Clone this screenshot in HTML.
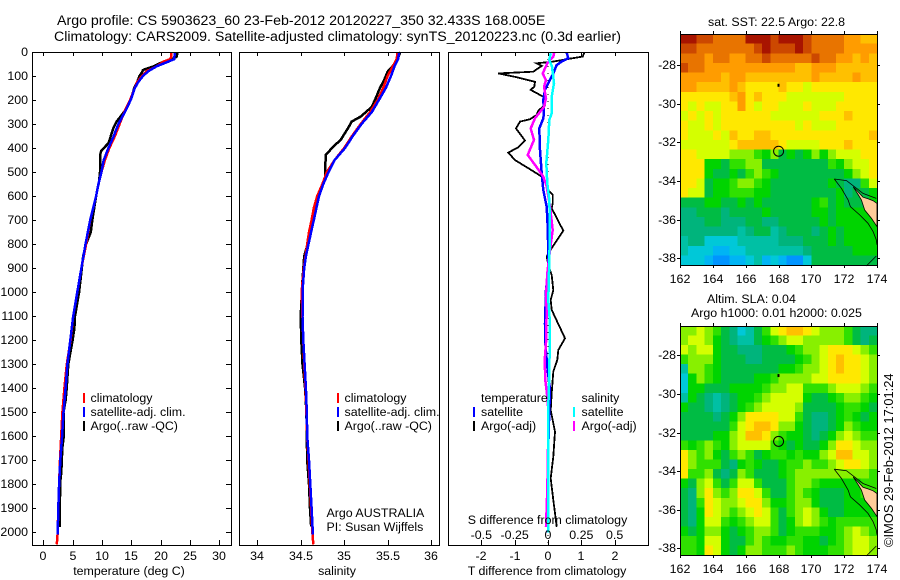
<!DOCTYPE html>
<html lang="en">
<head>
<meta charset="utf-8">
<title>Argo profile CS 5903623_60</title>
<style>
html,body{margin:0;padding:0;background:#fff;}
svg{display:block;}
text{font-family:"Liberation Sans",sans-serif;font-size:12.4px;fill:#000;}
.t14{font-size:14.2px;}
.stamp{font-size:12.9px;}
</style>
</head>
<body>
<svg id="chart" width="900" height="580" viewBox="0 0 900 580" xmlns="http://www.w3.org/2000/svg">
  <rect width="900" height="580" fill="#fff"/>
  <text class="t14" x="57" y="25">Argo profile: CS 5903623_60 23-Feb-2012 20120227_350 32.433S 168.005E</text>
  <text class="t14" x="54" y="41">Climatology: CARS2009. Satellite-adjusted climatology: synTS_20120223.nc (0.3d earlier)</text>

  <g id="panels"></g>
  <g id="maps"></g>

  <g>
    <rect x="83" y="393" width="2" height="10" fill="#f00"/>
    <text x="90.5" y="402">climatology</text>
    <rect x="83" y="407" width="2" height="10" fill="#00f"/>
    <text x="90.5" y="416">satellite-adj. clim.</text>
    <rect x="83" y="421" width="2" height="10" fill="#000"/>
    <text x="90.5" y="430">Argo(..raw -QC)</text>
  </g>
  <g>
    <rect x="337" y="393" width="2" height="10" fill="#f00"/>
    <text x="344.5" y="402">climatology</text>
    <rect x="337" y="407" width="2" height="10" fill="#00f"/>
    <text x="344.5" y="416">satellite-adj. clim.</text>
    <rect x="337" y="421" width="2" height="10" fill="#000"/>
    <text x="344.5" y="430">Argo(..raw -QC)</text>
  </g>
  <text x="326.5" y="517">Argo AUSTRALIA</text>
  <text x="326.5" y="531">PI: Susan Wijffels</text>

  <g>
    <text x="481" y="402">temperature</text>
    <text x="581.5" y="402">salinity</text>
    <rect x="473" y="407" width="2" height="10" fill="#00f"/>
    <text x="481" y="416">satellite</text>
    <rect x="473" y="421" width="2" height="10" fill="#000"/>
    <text x="481" y="430">Argo(-adj)</text>
    <rect x="573" y="407" width="2" height="10" fill="#0ff"/>
    <text x="581.5" y="416">satellite</text>
    <rect x="573" y="421" width="2" height="10" fill="#f0f"/>
    <text x="581.5" y="430">Argo(-adj)</text>
  </g>

  <text x="708" y="26">sat. SST: 22.5 Argo: 22.8</text>
  <text x="707" y="303">Altim. SLA: 0.04</text>
  <text x="691" y="317">Argo h1000: 0.01 h2000: 0.025</text>
  <text class="stamp" transform="translate(893,547) rotate(-90)">©IMOS 29-Feb-2012 17:01:24</text>
</svg>
<script>
// ---------- axis tick arrays ----------
const depthTicks = [0,100,200,300,400,500,600,700,800,900,1000,1100,1200,1300,1400,1500,1600,1700,1800,1900,2000];
const tempTicks = [0,5,10,15,20,25,30];
const salTicks = [34,34.5,35,35.5,36];
const salTickLabels = ['34','34.5','35','35.5','36'];
const tDiffTicks = [-2,-1,0,1,2];
const sDiffTicks = [-0.5,-0.25,0,0.25,0.5];
const sDiffTickLabels = ['-0.5','-0.25','0','0.25','0.5'];
const lonTicks = [162,164,166,168,170,172,174];
const latTicks = [-28,-30,-32,-34,-36,-38];

// ---------- temperature profiles ----------
const climTDepth = [0,20,30,40,60,80,100,125,150,200,250,300,350,400,450,500,550,600,700,800,900,1000,1100,1200,1300,1400,1500,1600,1700,1800,1900,2000,2050];
const climT = [21.8,21.8,21.6,20.5,19.3,17.6,16.8,16,15.6,14.8,13.8,13,12.2,11.25,10.5,9.9,9.4,9,8,7.3,6.5,5.8,5.1,4.66,4,3.6,3.25,3.05,2.85,2.7,2.55,2.45,2.3];
const satTDepth = [0,30,40,60,80,100,125,150,200,250,300,350,400,450,500,550,600,700,800,900,1000,1100,1200,1300,1400,1500,1600,1700,1800,1900,2010];
const satT = [22.45,22.3,21.3,19.3,17.9,17,16.2,15.6,14.9,13.9,12.8,12,11.1,10.3,9.9,9.4,9,8,7.2,6.5,5.8,5.1,4.6,4.1,3.8,3.45,3.2,2.9,2.7,2.55,2.45];
const argoTDepth = [0,20,30,40,60,75,85,100,125,150,175,200,250,290,320,350,380,410,430,500,540,600,700,750,800,850,1000,1100,1150,1200,1300,1400,1450,1500,1600,1650,1750,1800,1850,1950,1978];
const argoT = [22.9,22.7,21.9,20.5,18.75,17,16.8,16.4,16,15.5,15.2,14.9,13.75,12.5,11.9,11.5,11.1,9.9,9.66,9.66,9.5,9,8.35,8.1,7.3,6.8,6.1,5.4,5.3,5,4.26,3.98,3.8,3.45,3.5,3.24,3.07,2.85,2.85,2.8,2.8];

// ---------- salinity profiles ----------
const climSDepth = [0,30,60,100,150,200,250,300,350,400,450,500,550,600,650,700,750,800,850,900,1000,1200,1300,1400,1500,1600,1700,1800,1900,2000,2050];
const climS = [35.615,35.605,35.56,35.5,35.45,35.385,35.3,35.19,35.09,35.0,34.89,34.8,34.75,34.69,34.65,34.625,34.595,34.575,34.555,34.535,34.51,34.53,34.54,34.555,34.565,34.575,34.59,34.605,34.62,34.635,34.645];
const satSDepth = [0,30,60,100,150,200,250,300,350,400,450,500,550,600,650,700,750,800,850,900,950,1000,1100,1200,1300,1400,1500,1600,1700,1800,1900,2010];
const satS = [35.635,35.62,35.58,35.54,35.48,35.4,35.32,35.2,35.1,35.01,34.89,34.82,34.76,34.71,34.68,34.65,34.62,34.59,34.56,34.54,34.53,34.52,34.52,34.53,34.545,34.56,34.57,34.575,34.595,34.61,34.625,34.64];
const argoSDepth = [0,40,82,117,151,186,228,269,290,314,366,394,429,526,560,600,700,800,850,950,1100,1200,1300,1350,1400,1500,1700,1800,1900,1975];
const argoS = [35.647,35.605,35.5,35.46,35.41,35.37,35.32,35.19,35.086,35.05,34.96,34.875,34.787,34.78,34.75,34.7,34.63,34.58,34.54,34.52,34.5,34.507,34.52,34.535,34.55,34.565,34.575,34.595,34.607,34.62];

// ---------- differences from climatology ----------
const argoTDiffDepth = [3,19,30,40,47,58,82,89,105,124,144,158,186,221,244,262,280,290,318,369,397,419,450,484,519,540,575,595,630,651,744,817,852,887,929,991,1033,1074,1192,1241,1282,1331,1421,1491,1581,1685,1775,1865,1977];
const argoTDiff = [1.09,1.04,0.56,0.16,-0.34,-0.19,-0.44,-1.49,-0.94,-0.39,-0.41,-0.52,-0.14,-0.09,-0.29,-0.34,-0.54,-0.84,-0.96,-0.69,-0.89,-1.19,-0.99,-0.59,-0.19,-0.06,0.01,0.14,0.14,0.11,0.46,0.11,-0.04,0.01,0.11,0.16,0.08,0.11,0.51,0.31,0.28,0.16,0.11,0.08,0.21,0.16,0.08,0.16,0.26];
const satTDiffDepth = [3,26,40,54,89,130,158,200,248,276,318,408,505,575,644,727,838,922,991,1130,1213,1310,1407,1491,1643,2000];
const satTDiff = [0.56,0.61,0.41,0.26,0.16,0.01,-0.09,-0.14,-0.12,-0.14,-0.26,-0.24,-0.19,-0.14,-0.04,-0.01,0.01,0,-0.06,-0.09,-0.08,-0.02,0.06,0.04,0.01,0];
const argoSDiffDepth = [0,19,47,89,117,144,193,228,276,318,366,429,470,519,560,644,741,824,922,1019,1074,1213,1282,1366,1435,1491,1657,1824,1977];
const argoSDiff = [0.0475,0.04,-0.005,-0.04,-0.015,-0.03,-0.015,-0.03,-0.0975,-0.13,-0.105,-0.1525,-0.0975,-0.035,-0.01,0.015,0.035,0.015,-0.005,-0.015,-0.01,-0.015,-0.025,-0.02,-0.005,0.002,0,-0.005,-0.015];
const satSDiffDepth = [5,33,61,130,186,255,283,366,463,547,616,727,866,1033,1130,1338,1477,1630,1824,2000];
const satSDiff = [0.02,0.01,0.03,0.045,0.0275,0.0275,0.01,0.002,-0.0125,-0.005,0.01,0.015,0.01,0.002,0.015,0.01,0.002,0.002,0.002,0.002];

// ---------- map data (one character per 0.5 degree cell, colour level 0-F) ----------
const sstRows = [
"001122220001000122223344",
"112222222101110122223333",
"222322332212222212233434",
"122333333333334433344444",
"333334334444444434444344",
"334444345555455655555555",
"555555435455566666665555",
"565665535655666566655555",
"656565555556666665554555",
"566565555555556566655555",
"566656455445555555555554",
"666666544444566665554555",
"556666777897A9A979766655",
"55599A8877AAAAAAAA897665",
"5559AA9A8789AAAAAAAA9765",
"556A9987789AAAAAAA9ABB86",
"566A9988899AAAAAAAA9BAA9",
"AAA99AA9A9AAAAAA98A9AAA9",
"BBAAABAAAA9AAAAA99A99999",
"BBBAABBBAABBAAAAA9A99999",
"BBBBBBBCBAACBAAABA9A9999",
"CBBDDDDCCCCCBBBAAA9A9999",
"CDDDEEDDCCCCCCCBAAAAA999",
"DDDEFFEEDCEDEFFDAAAAAAAA"
];
const slaRows = [
"77678ABDCA86544567778ABB",
"76679ABCCA98766777778ABA",
"67669AABBBAAA98776555678",
"87779AAABBAAAA9876545567",
"C7789AAAAAAA998776545567",
"D9789AAAA998777766555567",
"D99AAA999987766888766678",
"C9ABCBA998766669AA987789",
"9AABCBA98766667AAAA9889A",
"AAAABA975555668ABBA989A9",
"AAAAAA865445779ABBA97899",
"AAAA99764457899ABA976788",
"8987897666689A9AA9755677",
"57879A878A98898997644667",
"57888AB989AA988788765567",
"5887ABA78AAA987777777778",
"9A768A8668AAA87789999988",
"AB757875568AA8789AAA9988",
"AB856776557998779AAA9999",
"AB9567876568A87679AA9999",
"AB9668987668A97678988888",
"9A9779A98778A98889987678",
"889669AA878998899A987667",
"889569A97788878999887667"
];
const levelColours = ["#a81400","#cc4800","#e87400","#ff9c00","#ffc000","#ffe800","#d4ff00","#88f000","#30e000","#00d400","#00bc44","#00b47c","#00c0a4","#00c8d8","#00b4f4","#0094ff"];

// ---------- coastline (lon, lat) ----------
const coastLon1 = [171.4,171.83,172.24,172.38,172.95,173.45,173.76,173.96,174];
const coastLat1 = [-33.9,-34.38,-34.98,-35.33,-35.76,-36.19,-36.62,-37.05,-37.3];
const coastLon2 = [171.4,172.14,172.75,173.15,173.96];
const coastLat2 = [-33.9,-33.98,-34.38,-34.64,-34.9];
const coastLon3 = [173.35,173.96];
const coastLat3 = [-38.4,-37.88];
const landLon = [172.55,172.75,173.15,173.45,173.76,174,174,173.66,173.25,173.05,172.85];
const landLat = [-34.3,-34.47,-34.84,-34.92,-35.02,-35.16,-36.36,-35.93,-35.5,-34.98,-34.7];
const profileLon = 168.005;
const profileLat = -32.46;
const islandLon = 168;
const islandLat = -29.05;

// ---------- geometry ----------
const NS = 'http://www.w3.org/2000/svg';
const TOP = 52, BOTTOM = 545, PX_PER_M = 0.24015;
const yDepth = function(d){ return TOP + d * PX_PER_M; };
const xTemp = function(t){ return 43.3 + t * 5.867; };
const xSal = function(s){ return 257.3 + (s - 34) * 86.85; };
const xTDiff = function(t){ return 548 + t * 33.33; };
const xSDiff = function(s){ return 548 + s * 133.3; };

function mk(tag, parent){
  const el = document.createElementNS(NS, tag);
  parent.appendChild(el);
  return el;
}
function setAttrs(el, o){ for (const k in o) el.setAttribute(k, o[k]); return el; }

function drawLine(parent, x1, y1, x2, y2, name){
  const l = mk('line', parent);
  
  
  setAttrs(l, {x1:x1, y1:y1, x2:x2, y2:y2, stroke:'#000', 'stroke-width':1, 'shape-rendering':'crispEdges'});
  return l;
}
function drawText(parent, x, y, s, anchor, name){
  const t = mk('text', parent);
  
  
  setAttrs(t, {x:x, y:y, 'text-anchor':anchor});
  t.textContent = s;
  return t;
}
function drawSeries(parent, depths, values, xFn, colour, width, name){
  const p = mk('polyline', parent);
  
  
  const pts = depths.map(function(d, i){ return xFn(values[i]).toFixed(1) + ',' + yDepth(d).toFixed(1); }).join(' ');
  setAttrs(p, {points:pts, fill:'none', stroke:colour, 'stroke-width':width, 'stroke-linejoin':'miter', 'shape-rendering':'crispEdges'});
  return p;
}
function drawFrame(parent, x0, y0, x1, y1, name){
  const r = mk('rect', parent);
  
  
  setAttrs(r, {x:x0 + 0.5, y:y0 + 0.5, width:x1 - x0, height:y1 - y0, fill:'none', stroke:'#000', 'stroke-width':1, 'shape-rendering':'crispEdges'});
  return r;
}

const panels = document.getElementById('panels');

// Temperature panel
const tg = mk('g', panels);


drawSeries(tg, argoTDepth, argoT, xTemp, '#000', 2.5, 'temperature-argo-line');
drawSeries(tg, climTDepth, climT, xTemp, '#f00', 2.5, 'temperature-climatology-line');
drawSeries(tg, satTDepth, satT, xTemp, '#00f', 2.5, 'temperature-satellite-line');
drawFrame(tg, 32, 52, 231, 545, 'temperature-plot-frame');
depthTicks.forEach(function(d){
  const y = Math.round(yDepth(d));
  drawLine(tg, 32, y + 0.5, 36, y + 0.5, 'depth-tick-left');
  drawLine(tg, 226, y + 0.5, 231, y + 0.5, 'depth-tick-right');
  drawText(tg, 28, y + 4, String(d), 'end', 'depth-tick-label');
});
tempTicks.forEach(function(t){
  const x = Math.round(xTemp(t));
  drawLine(tg, x + 0.5, 52, x + 0.5, 56, 'temperature-tick-top');
  drawLine(tg, x + 0.5, 540, x + 0.5, 545, 'temperature-tick-bottom');
  drawText(tg, x, 560, String(t), 'middle', 'temperature-tick-label');
});
drawText(tg, 129, 575, 'temperature (deg C)', 'middle', 'temperature-axis-title');

// Salinity panel
const sg = mk('g', panels);


drawSeries(sg, argoSDepth, argoS, xSal, '#000', 2.5, 'salinity-argo-line');
drawSeries(sg, climSDepth, climS, xSal, '#f00', 2.5, 'salinity-climatology-line');
drawSeries(sg, satSDepth, satS, xSal, '#00f', 2.5, 'salinity-satellite-line');
drawFrame(sg, 239, 52, 439, 545, 'salinity-plot-frame');
salTicks.forEach(function(s, i){
  const x = Math.round(xSal(s));
  drawLine(sg, x + 0.5, 52, x + 0.5, 56, 'salinity-tick-top');
  drawLine(sg, x + 0.5, 540, x + 0.5, 545, 'salinity-tick-bottom');
  drawText(sg, x, 560, salTickLabels[i], 'middle', 'salinity-tick-label');
});
drawText(sg, 337, 575, 'salinity', 'middle', 'salinity-axis-title');

// Difference panel
const dg = mk('g', panels);


const zero = mk('line', dg);


setAttrs(zero, {x1:xTDiff(0), y1:52, x2:xTDiff(0), y2:545, stroke:'#000', 'stroke-width':1, 'stroke-dasharray':'1 6', 'shape-rendering':'crispEdges'});
drawSeries(dg, argoTDiffDepth, argoTDiff, xTDiff, '#000', 1.8, 'temperature-difference-argo-line');
drawSeries(dg, satTDiffDepth, satTDiff, xTDiff, '#00f', 2.5, 'temperature-difference-satellite-line');
drawSeries(dg, argoSDiffDepth, argoSDiff, xSDiff, '#f0f', 2.5, 'salinity-difference-argo-line');
drawSeries(dg, satSDiffDepth, satSDiff, xSDiff, '#0ff', 2.5, 'salinity-difference-satellite-line');
drawFrame(dg, 448, 52, 648, 545, 'difference-plot-frame');
tDiffTicks.forEach(function(t){
  const x = Math.round(xTDiff(t));
  drawLine(dg, x + 0.5, 52, x + 0.5, 56, 'temperature-difference-tick-top');
  drawLine(dg, x + 0.5, 540, x + 0.5, 545, 'temperature-difference-tick-bottom');
  drawText(dg, x, 560, String(t), 'middle', 'temperature-difference-tick-label');
});
sDiffTicks.forEach(function(s, i){
  drawText(dg, xSDiff(s), 539, sDiffTickLabels[i], 'middle', 'salinity-difference-tick-label');
});
drawText(dg, 547.5, 524, 'S difference from climatology', 'middle', 'salinity-difference-axis-title');
drawText(dg, 547, 575, 'T difference from climatology', 'middle', 'temperature-difference-axis-title');

// Maps
const maps = document.getElementById('maps');
function drawMap(rows, left, right, top, bottom, y28, y38, name){
  const g = mk('g', maps);
  
  
  const pxLon = (right - left) / 12;
  const pxLat = (y38 - y28) / 10;
  const xLon = function(lon){ return left + (lon - 162) * pxLon; };
  const yLat = function(lat){ return y28 + (-28 - lat) * pxLat; };
  const cw = (right - left) / 24;
  const ch = (bottom - top) / rows.length;
  rows.forEach(function(row, r){
    row.split('').forEach(function(c, col){
      const cell = mk('rect', g);
      
      
      setAttrs(cell, {x:(left + col * cw).toFixed(2), y:(top + r * ch).toFixed(2), width:(cw + 0.4).toFixed(2), height:(ch + 0.4).toFixed(2), fill:levelColours[parseInt(c, 16)], 'shape-rendering':'crispEdges'});
    });
  });
  const land = mk('polygon', g);
  
  
  setAttrs(land, {points:landLon.map(function(lo, i){ return xLon(lo).toFixed(1) + ',' + yLat(landLat[i]).toFixed(1); }).join(' '), fill:'#ffcc99', stroke:'#000', 'stroke-width':0.8});
  [[coastLon1, coastLat1], [coastLon2, coastLat2], [coastLon3, coastLat3]].forEach(function(c){
    const line = mk('polyline', g);
    
    
    setAttrs(line, {points:c[0].map(function(lo, i){ return xLon(lo).toFixed(1) + ',' + yLat(c[1][i]).toFixed(1); }).join(' '), fill:'none', stroke:'#000', 'stroke-width':0.8});
  });
  const isl = mk('rect', g);
  
  
  setAttrs(isl, {x:xLon(islandLon) - 1, y:yLat(islandLat) - 1.5, width:2, height:3, fill:'#000'});
  const circle = mk('circle', g);
  
  
  setAttrs(circle, {cx:xLon(profileLon), cy:yLat(profileLat), r:5, fill:'none', stroke:'#000', 'stroke-width':1});
  drawFrame(g, left, top, right, bottom, name + '-frame');
  lonTicks.forEach(function(lon){
    const x = Math.round(xLon(lon));
    drawLine(g, x + 0.5, top - 3, x + 0.5, top, 'longitude-tick-top');
    drawLine(g, x + 0.5, bottom, x + 0.5, bottom + 3, 'longitude-tick-bottom');
    drawText(g, x, bottom + 18, String(lon), 'middle', 'longitude-tick-label');
  });
  latTicks.forEach(function(lat){
    const y = Math.round(yLat(lat));
    drawLine(g, left - 3, y + 0.5, left, y + 0.5, 'latitude-tick-left');
    drawLine(g, right, y + 0.5, right + 3, y + 0.5, 'latitude-tick-right');
    drawText(g, left - 4, y + 4, String(lat), 'end', 'latitude-tick-label');
  });
}
drawMap(sstRows, 680, 877, 34, 265, 65, 258.3, 'sst-map');
drawMap(slaRows, 680, 877, 326, 555, 355.3, 548.3, 'sla-map');
</script>
</body>
</html>
